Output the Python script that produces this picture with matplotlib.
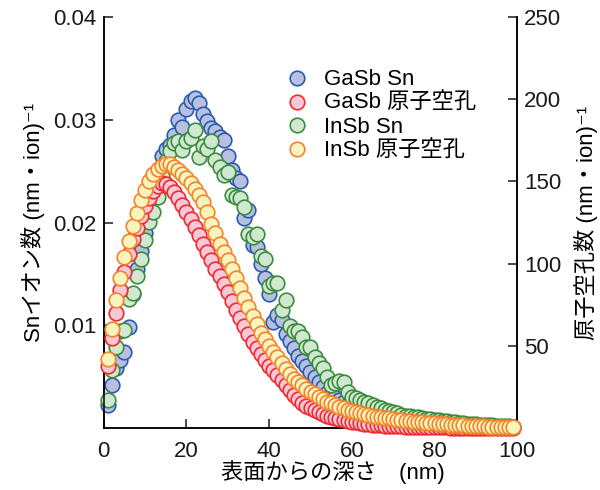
import matplotlib
matplotlib.use("Agg")
import matplotlib.pyplot as plt

plt.rcParams['font.family'] = ['Liberation Sans', 'Noto Sans CJK JP', 'DejaVu Sans']

depth = list(range(1, 100))

gasb_sn = [2.2, 4.2, 5.8, 6.6, 7.4, 9.8, 13.0, 15.5, 17.2, 19.0,
           20.9, 22.5, 24.5, 26.5, 27.2, 27.6, 28.5, 30.0, 29.3, 31.1,
           31.8, 32.1, 31.6, 30.6, 29.9, 29.2, 28.9, 28.3, 28.0, 26.5,
           25.1, 24.3, 24.0, 20.4, 21.2, 17.8, 17.6, 16.0, 14.6, 13.0,
           10.3, 11.0, 10.5, 9.2, 8.5, 7.8, 7.0, 6.5, 6.0, 5.5,
           5.0, 4.5, 4.0, 3.4, 3.2, 3.0, 2.7, 2.5, 2.2, 2.0,
           1.8, 1.7, 1.5, 1.4, 1.2, 1.1, 1.0, 0.9, 0.8, 0.7,
           0.65, 0.6, 0.55, 0.5, 0.45, 0.42, 0.4, 0.37, 0.34, 0.32,
           0.3, 0.28, 0.26, 0.24, 0.22, 0.2, 0.19, 0.18, 0.17, 0.16,
           0.15, 0.14, 0.13, 0.12, 0.11, 0.1, 0.1, 0.1, 0.1]

insb_sn = [2.7, 5.6, 7.9, 9.4, 9.5, 12.6, 13.1, 14.8, 16.5, 18.3,
           20.1, 21.0, 22.5, 24.5, 26.0, 27.0, 27.7, 27.9, 27.1, 27.9,
           28.2, 29.0, 26.4, 27.5, 27.2, 27.9, 26.1, 25.4, 24.6, 24.9,
           22.7, 22.5, 22.4, 21.5, 18.9, 18.6, 18.9, 16.7, 16.5, 13.8,
           14.1, 14.1, 11.5, 12.5, 9.9, 9.4, 9.4, 8.9, 7.9, 7.9,
           6.9, 6.3, 5.8, 5.0, 4.2, 4.4, 4.6, 4.5, 3.5, 3.0,
           2.9, 2.7, 2.5, 2.4, 2.2, 2.0, 1.9, 1.8, 1.7, 1.6,
           1.5, 1.3, 1.2, 1.2, 1.1, 1.1, 1.0, 0.9, 0.9, 0.8,
           0.75, 0.7, 0.65, 0.6, 0.55, 0.5, 0.45, 0.4, 0.38, 0.35,
           0.32, 0.3, 0.27, 0.25, 0.22, 0.2, 0.18, 0.15, 0.12]

gasb_vac = [38, 55, 70, 84, 95, 106, 115, 122, 129, 135,
            140, 144, 147, 149, 148.5, 146.5, 143.5, 140, 136, 131.5,
            127, 122.5, 117.5, 112, 107, 102, 97, 92.5, 87.5, 82.5,
            77, 72, 67, 62, 57, 52.5, 48.5, 45, 41.5, 38,
            35, 32, 29, 26, 23, 20, 17.5, 15, 13.5, 12,
            10.7, 9.5, 8.5, 7.5, 6.7, 6.0, 5.4, 4.8, 4.3, 3.8,
            3.4, 3.0, 2.7, 2.4, 2.1, 1.9, 1.7, 1.5, 1.35, 1.2,
            1.1, 1.0, 0.9, 0.8, 0.7, 0.65, 0.6, 0.55, 0.5, 0.45,
            0.4, 0.37, 0.34, 0.31, 0.28, 0.25, 0.23, 0.21, 0.19, 0.17,
            0.15, 0.14, 0.12, 0.11, 0.1, 0.09, 0.08, 0.07, 0.06]

insb_vac = [42, 60, 78, 91, 104, 114, 123, 131, 139, 145,
            150, 154.5, 157.5, 159.5, 160.5, 160.5, 159, 157, 154.5, 152,
            149, 145.5, 141.5, 137.5, 131.5, 124, 118.5, 112, 107, 102,
            97, 91, 85, 79, 73.5, 68, 63, 58, 54, 50,
            46.5, 43, 39.5, 36, 33, 30, 28, 26, 24, 22,
            20.5, 19, 17.5, 16, 15, 14, 13, 12, 11.2, 10.5,
            9.8, 9.2, 8.6, 8.0, 7.5, 7.0, 6.6, 6.2, 5.8, 5.5,
            5.1, 4.8, 4.5, 4.2, 3.9, 3.7, 3.4, 3.2, 3.0, 2.8,
            2.6, 2.4, 2.2, 2.0, 1.85, 1.7, 1.55, 1.4, 1.3, 1.2,
            1.1, 1.0, 0.9, 0.8, 0.7, 0.6, 0.5, 0.4, 0.35]

labels = ['GaSb Sn', 'GaSb 原子空孔', 'InSb Sn', 'InSb 原子空孔']
faces = ['#b8bfe0', '#f9c8d6', '#d0e8d0', '#f9f4bd']
edges = ['#2a5cae', '#ee2a2e', '#3d8b3f', '#f5822a']

fig = plt.figure(figsize=(6.0, 4.9), dpi=100)
ax = fig.add_axes([0.173, 0.1265, 0.689, 0.8385])
ax2 = ax.twinx()

ms = 10.5
ew = 1.2
sn_scale = 1e-3
h0, = ax.plot(depth, [v * sn_scale for v in gasb_sn], 'o', ms=ms, mfc=faces[0], mec=edges[0], mew=ew, clip_on=False, zorder=3)
h2, = ax.plot(depth, [v * sn_scale for v in insb_sn], 'o', ms=ms, mfc=faces[2], mec=edges[2], mew=ew, clip_on=False, zorder=4)
h1, = ax2.plot(depth, gasb_vac, 'o', ms=ms, mfc=faces[1], mec=edges[1], mew=ew, clip_on=False, zorder=3)
h3, = ax2.plot(depth, insb_vac, 'o', ms=ms, mfc=faces[3], mec=edges[3], mew=ew, clip_on=False, zorder=4)

ax.set_xlim(0, 100)
ax.set_ylim(0, 0.04)
ax2.set_ylim(0, 250)
ax.set_xticks([0, 20, 40, 60, 80, 100])
ax.set_yticks([0.01, 0.02, 0.03, 0.04])
ax.set_yticklabels(['0.01', '0.02', '0.03', '0.04'])
ax2.set_yticks([50, 100, 150, 200, 250])

fs = 16
for a in (ax, ax2):
    a.spines['top'].set_visible(False)
    for s in a.spines.values():
        s.set_linewidth(1.1)
    a.tick_params(direction='in', length=6.5, width=1.1, labelsize=fs, colors='#1a1a1a')
ax.tick_params(axis='x', pad=9)
ax.tick_params(axis='y', pad=5)
ax2.tick_params(axis='y', pad=5)

ax.set_xlabel('表面からの深さ\u3000(nm)', fontsize=fs)
ax.xaxis.set_label_coords(0.553, -0.078)
ax.set_ylabel('Snイオン数 (nm・ion)⁻¹', fontsize=fs, labelpad=6)
ax2.set_ylabel('原子空孔数 (nm・ion)⁻¹', fontsize=fs, labelpad=9)

ax2.legend([h0, h1, h2, h3], labels, loc='upper left', bbox_to_anchor=(0.441, 0.873),
           frameon=False, fontsize=fs, handletextpad=0.7, labelspacing=0.13,
           borderaxespad=0.0, borderpad=0.0, handlelength=1.0, markerscale=1.0)

fig.savefig('out.png', dpi=100)
